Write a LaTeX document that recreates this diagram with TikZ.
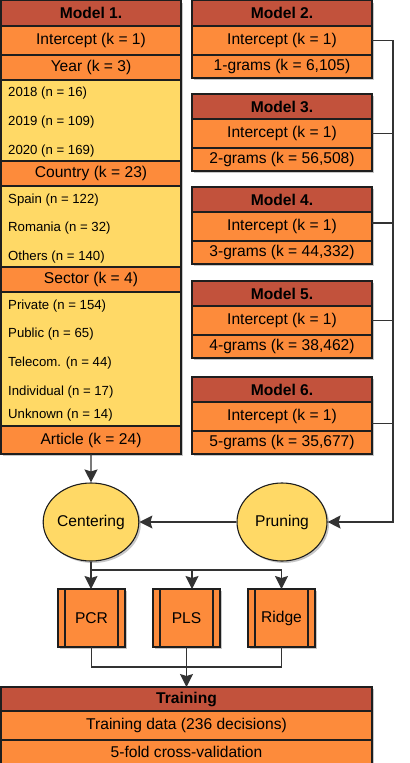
\documentclass[tikz,border=0pt]{standalone}
\usepackage{fontspec}
\setmainfont{Liberation Sans}
\usetikzlibrary{shapes.geometric,arrows.meta,shadows,calc}
\definecolor{hdr}{HTML}{C2523C}
\definecolor{org}{HTML}{FD8B3B}
\definecolor{yel}{HTML}{FFD966}
\definecolor{ln}{HTML}{1E1E1E}
\definecolor{cn}{HTML}{333333}
\newcommand\bigf{\fontsize{15.6bp}{18bp}\selectfont}
\newcommand\smallf{\fontsize{13.2bp}{15bp}\selectfont}
\begin{document}
\begin{tikzpicture}[x=1bp,y=-1bp,
  cell/.style={draw=ln,line width=1.1bp,inner sep=0pt,outer sep=0pt,anchor=north west,
    font=\bigf,drop shadow={shadow xshift=2bp,shadow yshift=-2bp,opacity=0.22,fill=black}},
  hd/.style={cell,fill=hdr,font=\bigf\bfseries},
  og/.style={cell,fill=org},
  yl/.style={cell,fill=yel},
  lt/.style={anchor=west,inner sep=0pt,font=\smallf},
  ell/.style={ellipse,draw=ln,line width=1.1bp,fill=yel,minimum width=90bp,minimum height=78bp,
    inner sep=0pt,font=\bigf,drop shadow={shadow xshift=2bp,shadow yshift=-2bp,opacity=0.22,fill=black}},
  proc/.style={cell,fill=org,minimum width=67bp,minimum height=58bp},
  conn/.style={draw=cn,line width=1.2bp},
  arr/.style={conn,-{Stealth[length=13bp,width=13bp,inset=2bp]}}
]
\useasboundingbox (0,0) rectangle (409,763);
% Model 1
\node[hd,minimum width=180bp,minimum height=25.4bp] (m1h) at (1,0.6) {Model 1.};
\node[og,minimum width=180bp,minimum height=29bp] (m1i) at (1,26) {Intercept (k = 1)};
\node[og,minimum width=180bp,minimum height=25bp] (m1y) at (1,55) {Year (k = 3)};
\node[yl,minimum width=180bp,minimum height=81bp] (m1a) at (1,80) {};
\node[og,minimum width=180bp,minimum height=25bp] (m1c) at (1,161) {Country (k = 23)};
\node[yl,minimum width=180bp,minimum height=81bp] (m1b) at (1,186) {};
\node[og,minimum width=180bp,minimum height=25bp] (m1s) at (1,267) {Sector (k = 4)};
\node[yl,minimum width=180bp,minimum height=134bp] (m1d) at (1,292) {};
\node[og,minimum width=180bp,minimum height=28bp] (m1r) at (1,426) {Article (k = 24)};
\node[lt] (t1) at (8,93) {2018 (n = 16)};
\node[lt] (t2) at (8,122) {2019 (n = 109)};
\node[lt] (t3) at (8,151) {2020 (n = 169)};
\node[lt] (t4) at (8,200) {Spain (n = 122)};
\node[lt] (t5) at (8,228) {Romania (n = 32)};
\node[lt] (t6) at (8,257) {Others (n = 140)};
\node[lt] (t7) at (8,306) {Private (n = 154)};
\node[lt] (t8) at (8,334) {Public (n = 65)};
\node[lt] (t9) at (8,363) {Telecom. (n = 44)};
\node[lt] (t10) at (8,392) {Individual (n = 17)};
\node[lt] (t11) at (8,415) {Unknown (n = 14)};
% Models 2-6
\node[hd,minimum width=180bp,minimum height=25.4bp] (m2h) at (192,0.6) {Model 2.};
\node[og,minimum width=180bp,minimum height=29bp] (m2i) at (192,26) {Intercept (k = 1)};
\node[og,minimum width=180bp,minimum height=23bp] (m2g) at (192,55) {1-grams (k = 6,105)};
\node[hd,minimum width=180bp,minimum height=25bp] (m3h) at (192,94) {Model 3.};
\node[og,minimum width=180bp,minimum height=29bp] (m3i) at (192,119) {Intercept (k = 1)};
\node[og,minimum width=180bp,minimum height=23bp] (m3g) at (192,148) {2-grams (k = 56,508)};
\node[hd,minimum width=180bp,minimum height=25bp] (m4h) at (192,187) {Model 4.};
\node[og,minimum width=180bp,minimum height=29bp] (m4i) at (192,212) {Intercept (k = 1)};
\node[og,minimum width=180bp,minimum height=23bp] (m4g) at (192,241) {3-grams (k = 44,332)};
\node[hd,minimum width=180bp,minimum height=25bp] (m5h) at (192,281) {Model 5.};
\node[og,minimum width=180bp,minimum height=29bp] (m5i) at (192,306) {Intercept (k = 1)};
\node[og,minimum width=180bp,minimum height=23bp] (m5g) at (192,335) {4-grams (k = 38,462)};
\node[hd,minimum width=180bp,minimum height=25bp] (m6h) at (192,377) {Model 6.};
\node[og,minimum width=180bp,minimum height=29bp] (m6i) at (192,402) {Intercept (k = 1)};
\node[og,minimum width=180bp,minimum height=23bp] (m6g) at (192,431) {5-grams (k = 35,677)};
% ellipses
\node[ell] (cen) at (91,522) {Centering};
\node[ell] (pru) at (282,522) {Pruning};
% process boxes
\node[proc] (pcr) at (58,589) {PCR};
\node[proc] (pls) at (153,589) {PLS};
\node[proc] (rid) at (248,589) {Ridge};
\foreach \n in {pcr,pls,rid}{
  \draw[draw=ln,line width=1.1bp] ($(\n.north west)+(7,0)$) -- ($(\n.south west)+(7,0)$);
  \draw[draw=ln,line width=1.1bp] ($(\n.north east)+(-7,0)$) -- ($(\n.south east)+(-7,0)$);
}
% training
\node[hd,minimum width=371bp,minimum height=24bp] (trh) at (1,687) {Training};
\node[og,minimum width=371bp,minimum height=29bp] (trd) at (1,711) {Training data (236 decisions)};
\node[og,minimum width=371bp,minimum height=24bp] (trc) at (1,740) {5-fold cross-validation};
% connectors
\coordinate (bus) at (393,522);
\coordinate (split) at (91,570);
\coordinate (merge) at (186.7,667);
\draw[arr] (m2i.east) -| (bus) -- (pru.east);
\draw[conn] (m3i.east) -| (bus);
\draw[conn] ($(m4i.east)+(0,-3.5)$) -| (bus);
\draw[conn] (m5i.east) -| (bus);
\draw[conn] ($(m6i.east)+(0,7)$) -| (bus);
\draw[arr] (m1r.south) -- (cen.north);
\draw[arr] (pru.west) -- (cen.east);
\draw[conn] (cen.south) -- (split);
\draw[arr] (split) -- (split |- pcr.north);
\draw[arr] (split) -| ($(pls.north)+(5.5,0)$);
\draw[arr] (split) -| (rid.north);
\draw[conn] (pcr.south) |- (merge);
\draw[conn] (rid.south) |- (merge);
\draw[arr] (pls.south) -- (pls.south |- trh.north);
\end{tikzpicture}
\end{document}
